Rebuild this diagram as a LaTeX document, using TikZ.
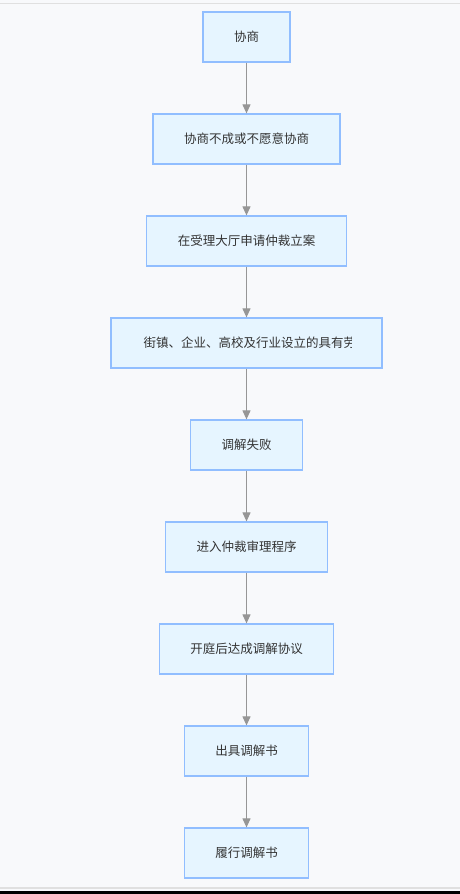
\documentclass[tikz,border=0pt]{standalone}
\usepackage{fontspec}
\newfontfamily\cjk{Noto Sans CJK SC}
\usetikzlibrary{arrows.meta}
\definecolor{bgcol}{RGB}{248,249,251}
\definecolor{boxfill}{RGB}{230,245,255}
\definecolor{boxline}{RGB}{145,190,255}
\definecolor{arrowcol}{RGB}{150,150,150}
\definecolor{txtcol}{RGB}{51,51,51}
\tikzset{stage/.style={draw=boxline, fill=boxfill, line width=1.2pt, minimum height=50pt,
  inner xsep=31pt, text=txtcol, font=\cjk\fontsize{12.5}{15}\selectfont},
%gray connector with a filled head
flow/.style={draw=arrowcol, line width=1pt, -{Triangle[length=9pt,width=8pt]}}}
\begin{document}
\begin{tikzpicture}[x=1pt,y=-1pt]

\fill[bgcol] (0,0) rectangle (460,894);
\useasboundingbox (0,0) rectangle (460,894);
\draw[black!12, line width=1pt] (0,3) -- (460,3);
\draw[black!12, line width=2pt] (0,887.5) -- (460,887.5);
\fill[black] (0,891) rectangle (460,894);

\node[stage] (1) at (246.5,37) {协商};
\node[stage] (2) at (246.5,139) {协商不成或不愿意协商};
\node[stage] (3) at (246.5,241) {在受理大厅申请仲裁立案};
\node[stage, minimum width=271pt] (4) at (246.5,343) {};
\node[stage] (5) at (246.5,445) {调解失败};
\node[stage] (6) at (246.5,547) {进入仲裁审理程序};
\node[stage] (7) at (246.5,649) {开庭后达成调解协议};
\node[stage] (8) at (246.5,751) {出具调解书};
\node[stage] (9) at (246.5,853) {履行调解书};

% the long label is cut at the box's inner edge
\begin{scope}
\clip (143,330) rectangle (351,356);
\node[stage, draw=none, fill=none, inner xsep=0pt, anchor=west] (4t) at (143,343)
  {街镇、企业、高校及行业设立的具有劳动争议调解职能的组织};
\end{scope}

\foreach \i/\j in {1/2,2/3,3/4,4/5,5/6,6/7,7/8,8/9}
    \draw[flow] (\i) -- (\j);

\end{tikzpicture}
\end{document}
